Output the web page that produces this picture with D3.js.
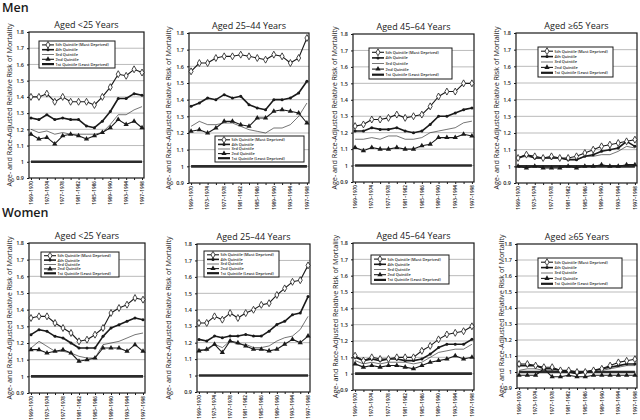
<!DOCTYPE html>
<html><head><meta charset="utf-8">
<script src="https://cdn.jsdelivr.net/npm/d3@7"></script>
<style>body{margin:0;background:#fff}svg{display:block;font-family:"Open Sans",sans-serif}</style>
</head><body><svg id="c" width="640" height="420"></svg>
<script>
// ---- data ----
const periods = ["1969–1970","1971–1972","1973–1974","1975–1976","1977–1978","1979–1980","1981–1982","1983–1984","1985–1986","1987–1988","1989–1990","1991–1992","1993–1994","1995–1996","1997–1998"];
const quintiles = ["5th Quintile (Most Deprived)","4th Quintile","3rd Quintile","2nd Quintile","1st Quintile (Least Deprived)"];
const yTicks = [0.9,1.0,1.1,1.2,1.3,1.4,1.5,1.6,1.7,1.8];
const ageTitles = ["Aged <25 Years","Aged 25–44 Years","Aged 45–64 Years","Aged ≥65 Years"];
const sexTitles = ["Men","Women"];
const yTitle = "Age- and Race-Adjusted Relative Risk of Mortality";
const ones = [1,1,1,1,1,1,1,1,1,1,1,1,1,1,1];

// series order: 5th, 4th, 3rd, 2nd, 1st quintile
const menU25 = [
  [1.40,1.40,1.42,1.37,1.40,1.37,1.37,1.37,1.35,1.40,1.46,1.54,1.53,1.57,1.55],
  [1.27,1.26,1.29,1.26,1.27,1.26,1.26,1.22,1.21,1.25,1.31,1.39,1.39,1.42,1.41],
  [1.20,1.18,1.19,1.17,1.18,1.17,1.17,1.17,1.17,1.18,1.23,1.29,1.29,1.32,1.34],
  [1.17,1.14,1.15,1.11,1.16,1.17,1.16,1.14,1.16,1.18,1.21,1.26,1.23,1.25,1.21],
  ones];
const men25to44 = [
  [1.57,1.62,1.62,1.65,1.66,1.66,1.67,1.66,1.65,1.64,1.67,1.66,1.62,1.65,1.77],
  [1.36,1.38,1.41,1.40,1.43,1.41,1.42,1.37,1.35,1.34,1.40,1.40,1.41,1.44,1.51],
  [1.24,1.27,1.25,1.25,1.26,1.26,1.24,1.22,1.21,1.20,1.23,1.23,1.25,1.30,1.38],
  [1.21,1.22,1.20,1.23,1.27,1.27,1.25,1.24,1.29,1.29,1.33,1.34,1.33,1.32,1.26],
  ones];
const men45to64 = [
  [1.24,1.25,1.28,1.28,1.29,1.31,1.29,1.30,1.31,1.36,1.42,1.45,1.45,1.50,1.50],
  [1.21,1.21,1.23,1.22,1.22,1.23,1.21,1.20,1.21,1.25,1.30,1.30,1.32,1.34,1.35],
  [1.16,1.16,1.17,1.16,1.18,1.18,1.16,1.16,1.17,1.20,1.21,1.22,1.23,1.26,1.27],
  [1.11,1.09,1.11,1.10,1.10,1.11,1.10,1.10,1.12,1.13,1.17,1.17,1.17,1.19,1.18],
  ones];
const men65plus = [
  [1.05,1.07,1.06,1.05,1.06,1.05,1.05,1.06,1.08,1.10,1.12,1.13,1.14,1.15,1.16],
  [1.05,1.07,1.05,1.05,1.05,1.05,1.04,1.04,1.06,1.07,1.09,1.10,1.11,1.15,1.12],
  [1.05,1.06,1.05,1.05,1.05,1.05,1.04,1.04,1.06,1.06,1.07,1.07,1.09,1.12,1.11],
  [1.00,0.99,1.00,0.99,0.99,0.99,1.00,0.99,1.00,1.00,1.01,1.00,1.00,1.01,1.01],
  ones];
const womenU25 = [
  [1.35,1.36,1.36,1.32,1.29,1.26,1.21,1.22,1.25,1.29,1.38,1.41,1.43,1.47,1.46],
  [1.25,1.28,1.27,1.24,1.23,1.20,1.17,1.17,1.17,1.24,1.29,1.31,1.33,1.35,1.34],
  [1.17,1.21,1.18,1.15,1.15,1.14,1.12,1.11,1.11,1.19,1.20,1.21,1.23,1.25,1.26],
  [1.16,1.16,1.14,1.15,1.16,1.14,1.09,1.10,1.11,1.17,1.17,1.17,1.15,1.19,1.15],
  ones];
const women25to44 = [
  [1.32,1.32,1.36,1.34,1.38,1.35,1.38,1.40,1.43,1.44,1.49,1.53,1.57,1.58,1.67],
  [1.22,1.21,1.24,1.23,1.24,1.24,1.25,1.24,1.24,1.27,1.31,1.33,1.37,1.38,1.48],
  [1.16,1.15,1.19,1.17,1.21,1.19,1.19,1.17,1.17,1.18,1.21,1.23,1.24,1.28,1.36],
  [1.15,1.16,1.19,1.14,1.21,1.20,1.18,1.16,1.16,1.15,1.16,1.19,1.22,1.20,1.24],
  ones];
const women45to64 = [
  [1.11,1.08,1.10,1.09,1.09,1.10,1.10,1.10,1.14,1.17,1.21,1.24,1.25,1.26,1.29],
  [1.10,1.08,1.09,1.08,1.09,1.09,1.08,1.08,1.09,1.12,1.16,1.18,1.18,1.18,1.21],
  [1.08,1.06,1.07,1.06,1.07,1.07,1.07,1.06,1.07,1.10,1.13,1.14,1.15,1.15,1.18],
  [1.06,1.04,1.05,1.04,1.05,1.05,1.04,1.03,1.05,1.07,1.08,1.09,1.11,1.09,1.10],
  ones];
const women65plus = [
  [1.05,1.05,1.04,1.03,1.03,1.01,1.01,1.00,1.00,1.01,1.02,1.04,1.06,1.07,1.08],
  [1.04,1.04,1.04,1.02,1.02,1.01,1.00,0.99,1.00,1.01,1.02,1.03,1.04,1.05,1.05],
  [1.01,1.02,1.02,1.01,1.01,1.00,1.00,0.99,1.00,1.00,1.01,1.02,1.03,1.04,1.04],
  [0.98,0.98,0.98,1.02,0.97,0.97,0.98,0.97,0.97,0.98,0.98,0.98,0.98,0.98,0.98],
  ones];

// ---- layout ----
const panels = [
  {d:menU25,      t:0, l:29,  r:144, top:32,  b:178, yt:10,  lg:[39,41,76,27]},
  {d:men25to44,   t:1, l:189, r:309, top:33,  b:183, yt:169, lg:[215,136,89,26]},
  {d:men45to64,   t:2, l:353, r:474, top:34,  b:182, yt:335, lg:[369,48,83,31]},
  {d:men65plus,   t:3, l:516, r:637, top:33,  b:183, yt:497, lg:[538,47,75,30]},
  {d:womenU25,    t:0, l:29,  r:145, top:243, b:393, yt:10,  lg:[41,252,78,25]},
  {d:women25to44, t:1, l:197, r:310, top:244, b:392, yt:169, lg:[204,251,75,26]},
  {d:women45to64, t:2, l:353, r:474, top:243, b:390, yt:336, lg:[371,255,78,29]},
  {d:women65plus, t:3, l:517, r:637, top:244, b:388, yt:502, lg:[538,258,84,30]}
];
const ink = "#1a1a1a";
const styles = [
  {w:1.1, m:"diamond"},
  {w:1.6, m:"circle"},
  {w:0.6, m:null},
  {w:1.1, m:"triangle"},
  {w:2.6, m:null}
];

const svg = d3.select("#c");
svg.append("text").attr("x",2).attr("y",12).attr("font-size",12.5).attr("font-weight",600).attr("fill",ink).text(sexTitles[0]);
svg.append("text").attr("x",2).attr("y",217).attr("font-size",12.5).attr("font-weight",600).attr("fill",ink).text(sexTitles[1]);

function marker(g, type, x, y){
  if(type==="diamond"){
    g.append("path").attr("d",d3.symbol(d3.symbolDiamond,14)()).attr("transform",`translate(${x},${y})`)
      .attr("fill","#fff").attr("stroke",ink).attr("stroke-width",0.8);
  } else if(type==="circle"){
    g.append("circle").attr("cx",x).attr("cy",y).attr("r",1.5).attr("fill",ink);
  } else if(type==="triangle"){
    g.append("path").attr("d",d3.symbol(d3.symbolTriangle,12)()).attr("transform",`translate(${x},${y})`).attr("fill",ink);
  }
}

panels.forEach(p=>{
  const g = svg.append("g");
  const x = d3.scalePoint().domain(periods).range([p.l,p.r]).padding(0.25);
  const y = d3.scaleLinear().domain([0.9,1.8]).range([p.b,p.top]);
  // grid
  g.selectAll("line.grid").data(yTicks.slice(1,-1)).join("line")
    .attr("x1",p.l).attr("x2",p.r).attr("y1",d=>y(d)).attr("y2",d=>y(d))
    .attr("stroke","#b3b3b3").attr("stroke-width",0.9);
  // y axis
  const ya = g.append("g").attr("transform",`translate(${p.l},0)`)
    .call(d3.axisLeft(y).tickValues(yTicks).tickSize(2).tickPadding(3).tickFormat(d=>d===1?"1":d3.format(".1f")(d)));
  ya.select(".domain").remove();
  ya.selectAll("line").attr("stroke",ink);
  ya.selectAll("text").attr("font-size",5.5).attr("font-weight",600).attr("fill",ink).attr("font-family","'Open Sans',sans-serif");
  // x axis ticks (no default labels)
  const xa = g.append("g").attr("transform",`translate(0,${p.b})`)
    .call(d3.axisBottom(x).tickSize(2).tickFormat(""));
  xa.select(".domain").remove();
  xa.selectAll("line").attr("stroke",ink);
  // rotated x labels on every other period
  g.selectAll("text.xl").data(periods.filter((d,i)=>i%2===0)).join("text")
    .attr("class","xl")
    .attr("transform",d=>`translate(${x(d)+1.7},${p.b+3}) rotate(-90)`)
    .attr("text-anchor","end").attr("font-size",4.7).attr("font-weight",600).attr("fill",ink)
    .text(d=>d);
  // frame
  g.append("rect").attr("x",p.l).attr("y",p.top).attr("width",p.r-p.l).attr("height",p.b-p.top)
    .attr("fill","none").attr("stroke",ink).attr("stroke-width",1.2);
  // title
  g.append("text").attr("x",(p.l+p.r)/2).attr("y",p.top-4).attr("text-anchor","middle")
    .attr("font-size",9).attr("fill",ink).text(ageTitles[p.t]);
  // y title
  g.append("text").attr("transform",`translate(${p.yt},${(p.top+p.b)/2}) rotate(-90)`).attr("text-anchor","middle")
    .attr("dominant-baseline","middle").attr("font-size",7.2).attr("fill",ink).text(yTitle);
  // series (1st quintile first so others sit on top)
  const line = d3.line().x((d,i)=>x(periods[i])).y(d=>y(d));
  for(let s=4;s>=0;s--){
    const vals = p.d[s];
    g.append("path").attr("d",line(vals)).attr("fill","none")
      .attr("stroke", s===4? "#2b2b2b": ink).attr("stroke-width",styles[s].w).attr("stroke-linejoin","round");
    if(styles[s].m) vals.forEach((v,i)=>marker(g,styles[s].m,x(periods[i]),y(v)));
  }
  // legend
  const [lx,ly,lw,lh] = p.lg;
  const lg = g.append("g");
  lg.append("rect").attr("x",lx).attr("y",ly).attr("width",lw).attr("height",lh).attr("fill","#fff").attr("stroke",ink).attr("stroke-width",1);
  const rh = (lh-3)/5;
  quintiles.forEach((q,i)=>{
    const yy = ly+1.5+rh*(i+0.5);
    lg.append("line").attr("x1",lx+3).attr("x2",lx+15).attr("y1",yy).attr("y2",yy).attr("stroke",ink).attr("stroke-width",Math.min(styles[i].w,2.2));
    if(styles[i].m) marker(lg,styles[i].m,lx+9,yy);
    lg.append("text").attr("x",lx+16.5).attr("y",yy+1.4).attr("font-size",3.9)
      .attr("font-weight",600).attr("fill",ink).text(q);
  });
});
</script></body></html>
